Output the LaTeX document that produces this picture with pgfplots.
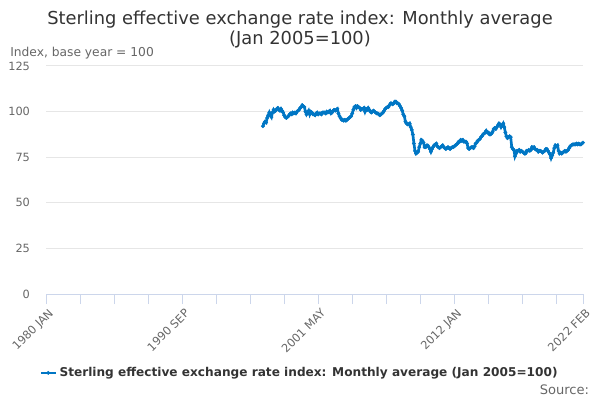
\documentclass[border=0pt]{standalone}
\usepackage{pgfplots}
\pgfplotsset{compat=1.18}
\usepackage{pgfplotstable}
\usepackage{fontspec}
\setmainfont{DejaVu Sans}
\definecolor{serblue}{RGB}{0,118,196}
\definecolor{txtdark}{RGB}{51,51,51}
\definecolor{txtgrey}{RGB}{102,102,102}
\definecolor{gridgrey}{RGB}{230,230,230}
\definecolor{axblue}{RGB}{204,214,235}
\pgfplotstableread{
v
92.0
93.5
94.5
94.0
96.5
98.0
99.5
98.0
97.0
99.5
101.0
100.0
100.5
101.5
102.0
101.0
100.5
101.5
100.5
99.5
98.0
97.0
96.5
97.0
97.5
98.5
99.0
98.5
99.5
99.0
99.5
99.0
100.0
100.5
101.0
102.0
102.5
103.5
103.0
102.5
100.0
98.5
99.5
100.5
98.5
100.0
99.5
98.5
98.5
98.0
99.0
99.5
98.5
99.0
99.0
98.5
99.5
99.5
99.5
99.0
100.0
99.5
100.0
100.5
99.0
99.5
100.5
101.0
100.5
101.0
101.5
99.0
97.5
96.5
95.5
95.5
95.0
95.5
95.0
95.5
96.0
96.5
97.0
97.5
99.0
101.0
102.5
103.0
102.0
103.0
102.5
102.0
101.0
101.5
101.5
102.0
100.0
101.5
101.0
102.0
101.0
100.0
99.5
100.0
100.5
100.0
99.5
99.0
99.0
98.5
98.0
98.5
99.0
99.5
100.5
101.5
102.0
102.5
102.5
103.5
104.5
104.5
104.0
104.5
105.5
105.5
104.5
104.5
104.0
103.0
102.0
100.5
98.5
97.5
94.5
93.5
93.0
93.0
93.5
91.5
90.0
87.5
82.5
78.5
77.0
77.5
78.0
80.5
82.5
84.5
84.0
83.0
80.5
80.5
81.5
81.5
80.5
79.5
78.0
79.5
80.5
81.5
82.0
82.5
81.0
80.5
80.0
80.5
81.0
81.5
80.5
80.0
79.5
80.0
80.5
80.0
79.5
80.0
80.5
80.5
81.0
81.5
82.0
82.5
83.5
83.5
84.5
84.0
84.5
83.5
83.5
83.5
82.5
80.0
79.5
80.0
80.5
80.5
80.0
81.0
82.5
83.0
84.0
84.5
85.0
86.0
86.5
87.5
88.0
88.5
89.5
88.5
88.5
87.5
87.5
88.0
89.0
90.5
91.0
90.5
91.5
92.5
93.5
93.0
91.5
92.5
93.5
91.5
88.5
86.5
85.5
86.0
86.5
86.0
80.5
79.5
79.0
75.5
77.0
78.5
78.5
79.0
78.0
78.5
78.0
77.5
77.0
77.0
78.5
78.5
79.0
78.5
79.0
80.5
80.0
80.5
79.5
79.0
79.0
78.0
78.5
78.5
78.0
77.5
78.0
78.5
79.5
79.5
78.5
77.5
76.5
74.5
76.0
77.5
80.0
81.5
81.0
81.5
78.5
77.0
77.5
77.0
77.5
78.0
78.5
78.0
78.5
79.0
80.0
81.0
81.5
82.0
82.0
82.0
82.0
82.5
82.0
82.5
82.0
82.0
82.5
83.0
}\eri
\begin{document}
\begin{tikzpicture}
\useasboundingbox (0,0) rectangle (450pt,300pt);
\node[text=txtdark, font=\fontsize{13.4}{15}\selectfont, align=center] at (225pt,277.5pt)
  {Sterling effective exchange rate index: Monthly average\\(Jan 2005=100)};
\node[text=txtgrey, font=\fontsize{9.2}{11}\selectfont, anchor=west, inner sep=0pt] at (7.5pt,260pt) {Index, base year = 100};
\node[text=txtgrey, font=\fontsize{9.8}{11}\selectfont, anchor=east, inner sep=0pt] at (442pt,7.5pt) {Source:};
\begin{axis}[
  at={(34.5pt,79.5pt)}, anchor=south west,
  scale only axis, width=402.75pt, height=171pt,
  xmin=0, xmax=505, ymin=0, ymax=125,
  axis y line*=left, axis x line*=bottom,
  y axis line style={draw=none},
  x axis line style={draw=axblue, line width=0.75pt},
  ytick={0,25,50,75,100,125},
  ymajorgrids, grid style={gridgrey, line width=0.75pt},
  major y tick style={draw=none},
  xtick={0,128,256,384,505},
  minor xtick={32,64,96,160,192,224,288,320,352,416,448,480},
  xticklabels={1980 JAN,1990 SEP,2001 MAY,2012 JAN,2022 FEB},
  x tick style={draw=axblue, line width=0.75pt},
  tick align=outside, major tick length=7.5pt, minor tick length=7.5pt,
  /pgf/number format/assume math mode=true,
  yticklabel style={text=txtgrey, font=\fontsize{8.5}{10}\selectfont, xshift=-1pt},
  xticklabel style={text=txtgrey, font=\fontsize{8.5}{10}\selectfont, rotate=45, anchor=north east, inner sep=1pt, yshift=-2pt},
  legend style={at={(0.473,-0.346)}, anchor=center, draw=none, fill=none,
    font=\fontsize{9.1}{11}\selectfont\bfseries, text=txtdark},
  legend image code/.code={\draw[mark repeat=2,mark phase=2,#1] plot coordinates {(0cm,0cm) (0.19cm,0cm) (0.38cm,0cm)};},
]
\addplot[serblue, line width=2pt, mark=*, mark size=1.3pt, mark options={fill=serblue, draw=serblue, line width=0.3pt}]
  table[x expr=\coordindex+204, y=v] {\eri};
\addlegendentry{Sterling effective exchange rate index: Monthly average (Jan 2005=100)}
\end{axis}
\end{tikzpicture}
\end{document}
